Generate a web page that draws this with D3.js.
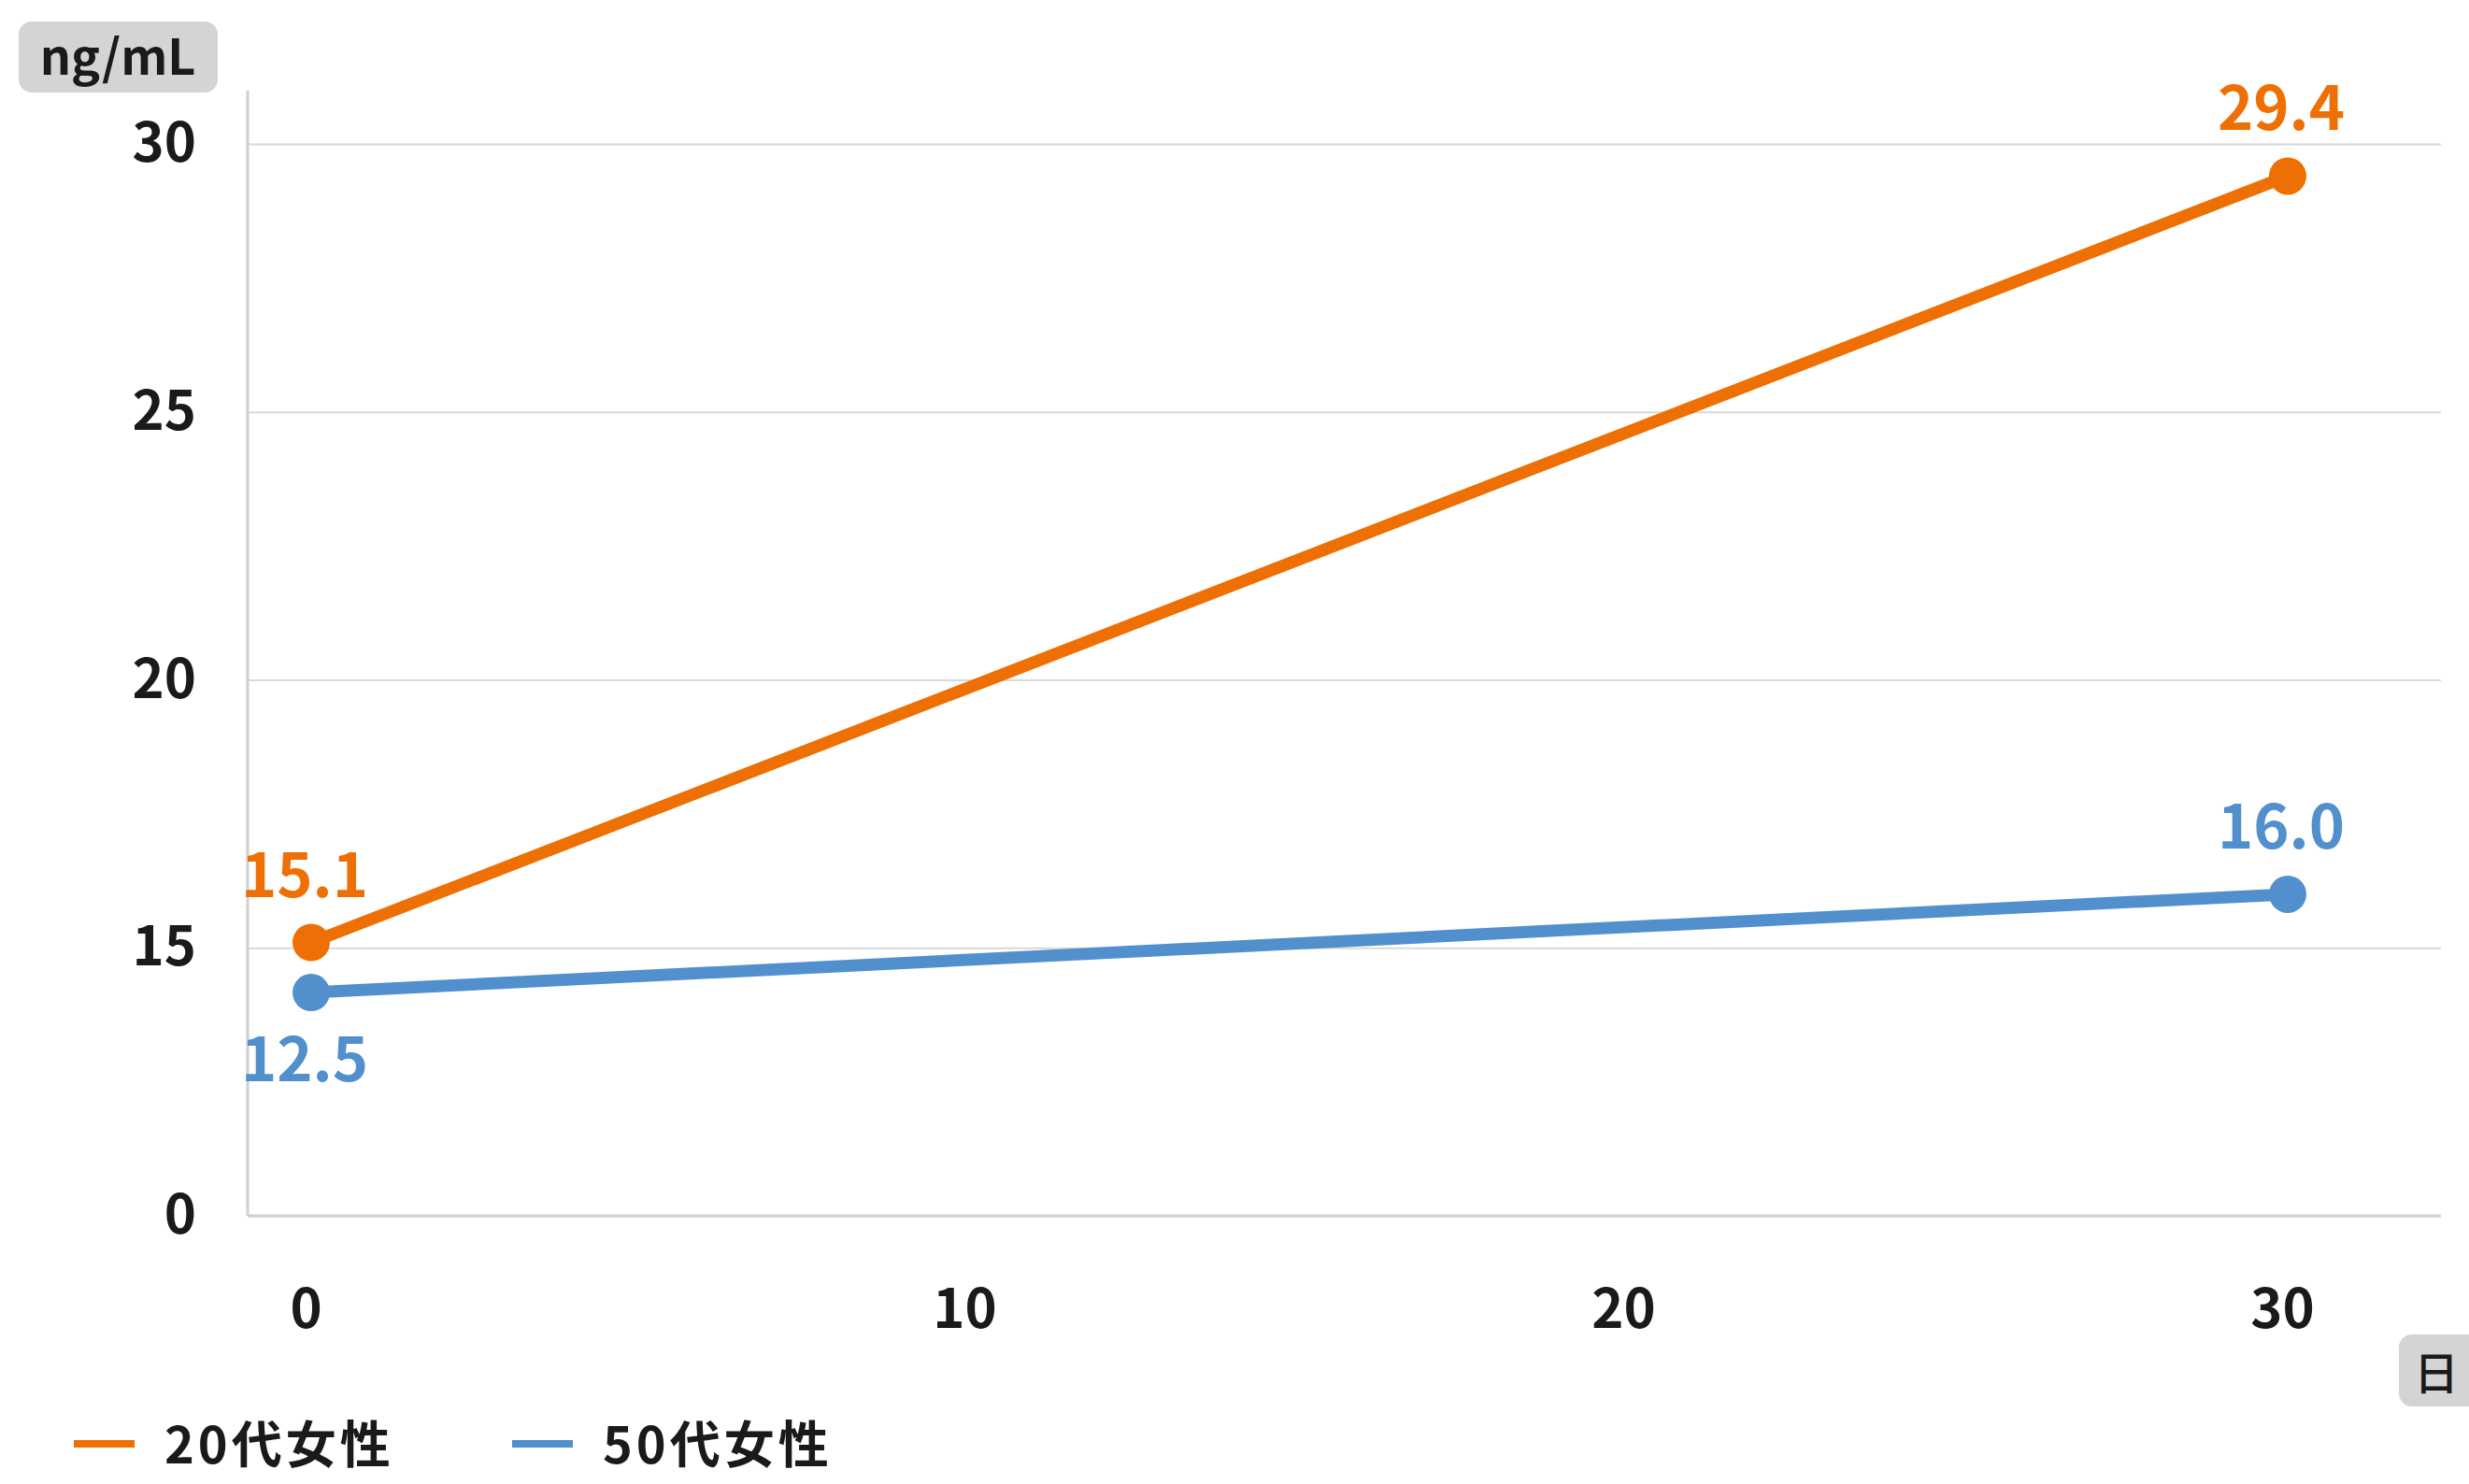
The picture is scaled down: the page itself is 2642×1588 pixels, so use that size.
<!DOCTYPE html>
<html lang="ja">
<head>
<meta charset="utf-8">
<title>ng/mL 推移</title>
<script src="https://cdn.jsdelivr.net/npm/d3@7/dist/d3.min.js"></script>
<style>
  html, body { margin: 0; padding: 0; background: #ffffff; }
  svg { display: block; font-family: "Noto Sans CJK JP", "Noto Sans", sans-serif; }
</style>
</head>
<body>
<svg id="chart" width="2642" height="1588"></svg>
<script>
// Measurement days and values for each group
const days = [0, 30];
const women20s = [15.1, 29.4];
const women50s = [12.5, 16.0];
const seriesNames = ["20代女性", "50代女性"];
const seriesColors = ["#ee7005", "#5190cd"];
const yTickValues = [0, 15, 20, 25, 30];
const xTickValues = [0, 10, 20, 30];
const yUnit = "ng/mL";
const xUnit = "日";

const svg = d3.select("#chart");

// Plot frame
const plotLeft = 265, plotRight = 2612, plotTop = 154, plotBottom = 1301, axisTop = 97;
const step = (plotBottom - plotTop) / 4;

// Broken value axis: 0 sits one gridline below 15
const y = d3.scaleLinear().domain([0, 15, 30]).range([plotBottom, plotBottom - step, plotTop]);
const x = d3.scaleLinear().domain([0, 30]).range([333, 2448]);

// Gridlines + y labels
const yAxis = svg.append("g")
  .attr("transform", `translate(${plotLeft},0)`)
  .call(d3.axisLeft(y).tickValues(yTickValues).tickSize(-(plotRight - plotLeft)).tickPadding(55));
yAxis.select(".domain").remove();
yAxis.selectAll(".tick line").attr("stroke", "#d9d9d9").attr("stroke-width", 2);
yAxis.selectAll(".tick text")
  .attr("font-size", 58).attr("font-weight", 700).attr("fill", "#1a1a1a")
  .attr("font-family", "Noto Sans CJK JP");

// Axis lines
svg.append("line").attr("x1", plotLeft).attr("x2", plotLeft).attr("y1", axisTop).attr("y2", plotBottom)
  .attr("stroke", "#d0d0d0").attr("stroke-width", 3);
svg.append("line").attr("x1", plotLeft).attr("x2", plotRight).attr("y1", plotBottom).attr("y2", plotBottom)
  .attr("stroke", "#d0d0d0").attr("stroke-width", 3);

// x labels
const xAxis = svg.append("g")
  .attr("transform", `translate(0,${plotBottom})`)
  .call(d3.axisBottom(x).tickValues(xTickValues).tickSize(0));
xAxis.select(".domain").remove();
xAxis.selectAll(".tick text")
  .attr("y", 99).attr("dy", "0.36em").attr("dx", -6)
  .attr("font-size", 58).attr("font-weight", 700).attr("fill", "#1a1a1a")
  .attr("font-family", "Noto Sans CJK JP");

// Unit badges
const yBadge = svg.append("g");
yBadge.append("rect").attr("x", 20).attr("y", 23).attr("width", 213).attr("height", 76)
  .attr("rx", 14).attr("fill", "#d4d4d4");
yBadge.append("text").attr("x", 126).attr("y", 80).attr("text-anchor", "middle")
  .attr("font-size", 52).attr("font-weight", 700).attr("fill", "#1a1a1a").text(yUnit);

const xBadge = svg.append("g");
xBadge.append("rect").attr("x", 2567).attr("y", 1428).attr("width", 90).attr("height", 77)
  .attr("rx", 14).attr("fill", "#d4d4d4");
xBadge.append("text").attr("x", 2607).attr("y", 1470).attr("dy", "0.36em").attr("text-anchor", "middle")
  .attr("font-size", 48).attr("font-weight", 500).attr("fill", "#1a1a1a").text(xUnit);

// Series
const series = [
  { name: seriesNames[0], color: seriesColors[0], values: women20s, labelPos: ["above", "above"] },
  { name: seriesNames[1], color: seriesColors[1], values: women50s, labelPos: ["below", "above"] }
];

const line = d3.line().x(d => x(d[0])).y(d => y(d[1]));

series.forEach(s => {
  const pts = days.map((d, i) => [d, s.values[i]]);
  const g = svg.append("g");
  g.append("path").datum(pts).attr("d", line)
    .attr("fill", "none").attr("stroke", s.color).attr("stroke-width", 13);
  g.selectAll("circle").data(pts).join("circle")
    .attr("cx", d => x(d[0])).attr("cy", d => y(d[1])).attr("r", 20).attr("fill", s.color);
  g.selectAll("text").data(pts).join("text")
    .attr("x", d => x(d[0]) - 7)
    .attr("y", (d, i) => y(d[1]) + (s.labelPos[i] === "above" ? -49 : 95))
    .attr("text-anchor", "middle")
    .attr("font-size", 65).attr("font-weight", 700).attr("fill", s.color)
    .text(d => d[1].toFixed(1));
});

// Legend
const legendX = [79, 548];
series.forEach((s, i) => {
  const g = svg.append("g").attr("transform", `translate(${legendX[i]},1545)`);
  g.append("line").attr("x1", 0).attr("x2", 65).attr("y1", 0).attr("y2", 0)
    .attr("stroke", s.color).attr("stroke-width", 8);
  g.append("text").attr("x", 97).attr("y", 21)
    .attr("font-size", 54).attr("font-weight", 700).attr("fill", "#1a1a1a")
    .attr("letter-spacing", 4).text(s.name);
});
</script>
</body>
</html>
